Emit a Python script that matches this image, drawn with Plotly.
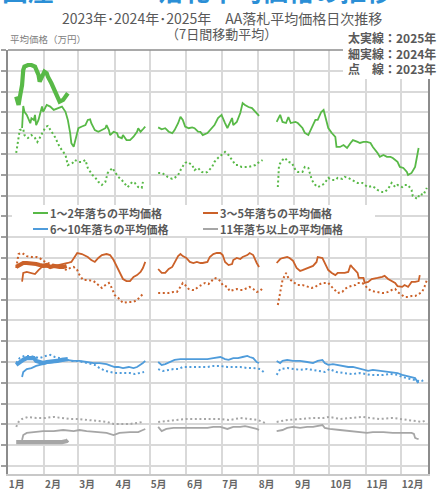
import plotly.graph_objects as go

# ---------------- labels ----------------
MONTHS = ["1月", "2月", "3月", "4月", "5月", "6月", "7月", "8月", "9月", "10月", "11月", "12月"]
MONTH_START = [0, 31, 60, 91, 121, 152, 182, 213, 244, 274, 305, 335]   # day of year (0 = 1月1日)
GROUPS = ["1～2年落ちの平均価格", "3～5年落ちの平均価格", "6～10年落ちの平均価格", "11年落ち以上の平均価格"]
YEARS = ["2023年", "2024年", "2025年"]

# ------------- data: (day of year, 7日間移動平均) ; None = 休場(GW・お盆) -------------
# 1～2年落ち
G23 = [(7,160.5),(9,166.7),(10,171.5),(13,172.0),(14,169.1),(17,167.7),(20,169.1),(23,167.7),(25,165.8),(27,167.7),
       (30,170.6),(32,173.0),(34,173.5),(37,170.6),(40,168.2),(44,163.4),(49,159.5),(51,154.7),(55,155.7),(57,157.1),
       (60,156.2),(63,156.2),(66,157.1),(68,153.3),(72,149.9),(74,149.0),(77,146.6),(80,145.1),(83,146.6),(85,150.9),
       (89,153.3),(91,151.4),(94,149.0),(97,147.5),(100,145.1),(102,144.1),(106,146.6),(108,146.1),(111,144.1),(114,143.7),
       (115,146.6),(121,None),
       (128,150.9),(131,150.9),(134,149.9),(136,149.0),(140,148.0),(142,148.5),(145,149.9),(148,153.3),(151,155.7),(153,156.2),
       (157,154.7),(159,152.3),(162,153.3),(165,151.4),(168,150.9),(170,151.4),(174,153.8),(176,156.2),(179,158.1),(182,159.5),
       (185,161.0),(188,159.5),(191,157.1),(194,154.7),(196,154.7),(199,153.8),(202,153.8),(205,153.8),(208,154.2),(211,154.7),
       (213,155.7),(217,157.1),(223,None),
       (230,144.1),(231,154.7),(234,157.1),(236,158.1),(239,156.2),(242,155.7),(245,152.3),(247,151.4),(251,151.4),(253,153.8),
       (256,153.3),(259,147.5),(262,145.1),(264,144.1),(268,145.1),(270,146.1),(273,148.5),(276,147.5),(279,147.5),(281,148.5),
       (285,148.0),(287,149.0),(290,148.5),(293,147.5),(296,146.6),(298,146.1),(302,146.1),(304,145.1),(307,144.1),(310,144.6),
       (313,143.7),(315,142.7),(319,141.7),(321,141.7),(324,143.2),(327,146.1),(330,144.1),(332,145.1),(336,144.1),(338,145.1),
       (341,145.1),(344,142.7),(345,139.8),(349,138.4),(351,140.8),(354,140.3),(357,143.7)]
G24 = [(12,172.5),(13,183.1),(14,180.3),(16,178.8),(19,174.8),(20,177.2),(22,176.4),(23,178.8),(24,173.9),(26,176.4),
       (29,182.8),(30,180.3),(33,183.6),(36,182.8),(39,181.2),(43,182.0),(46,182.8),(49,180.3),(51,176.4),(53,170.0),
       (54,165.2),(56,163.5),(58,168.3),(60,172.4),(63,173.2),(66,173.9),(68,176.4),(70,176.7),(71,174.8),(74,171.5),
       (77,170.7),(80,171.5),(83,172.4),(84,173.9),(86,171.5),(87,169.1),(90,170.7),(93,170.0),(94,168.3),(97,167.6),
       (98,169.1),(101,166.7),(104,166.7),(107,168.3),(110,170.7),(111,172.4),(113,170.7),(115,171.9),(117,173.2),(122,None),
       (128,172.8),(131,171.9),(134,172.4),(137,170.7),(140,170.0),(142,171.5),(145,174.8),(147,177.9),(149,176.4),(151,173.2),
       (154,172.4),(157,172.8),(159,172.4),(162,170.7),(164,170.6),(166,169.1),(170,170.1),(174,172.5),(176,173.9),(179,177.3),
       (182,178.8),(185,174.9),(187,172.5),(189,174.9),(191,177.3),(192,173.9),(195,175.4),(198,179.7),(200,184.5),(202,183.6),
       (205,182.6),(208,182.1),(211,180.2),(214,178.3),(222,None),
       (229,175.4),(232,178.8),(234,175.4),(237,174.9),(239,177.8),(241,174.9),(245,175.4),(247,174.9),(251,172.5),(253,170.1),
       (256,169.1),(259,173.0),(262,176.4),(264,176.4),(267,180.2),(269,181.2),(270,178.8),(273,172.5),(276,170.1),(279,168.2),
       (280,163.4),(283,163.4),(286,164.3),(289,162.9),(292,165.3),(294,166.7),(298,165.8),(300,165.3),(303,165.8),(306,165.8),
       (309,165.3),(311,163.4),(315,160.5),(317,158.6),(320,159.5),(323,158.6),(326,158.6),(328,158.1),(332,156.2),(334,153.8),
       (337,153.3),(340,151.4),(341,149.9),(344,150.9),(347,153.8),(349,159.5),(350,162.9)]
G25 = [(7,187.6),(9,183.6),(10,187.0),(12,193.2),(13,200.4),(14,202.0),(17,202.8),(20,202.8),(23,202.0),(26,198.0),
       (27,194.8),(29,197.2),(31,199.6),(33,198.8),(34,197.2),(37,194.0),(40,190.0),(42,186.8),(44,185.2),(47,186.0),
       (49,187.6),(51,189.2)]

# 3～5年落ち
O23 = [(7,105.2),(9,111.9),(12,112.4),(16,110.9),(20,110.5),(24,110.5),(27,110.0),(30,108.6),(34,107.6),(39,106.6),
       (43,105.7),(47,105.2),(50,104.2),(53,105.2),(56,105.7),(59,104.2),(61,101.8),(64,99.4),(68,99.4),(73,98.9),
       (77,97.0),(80,95.6),(83,97.0),(86,98.0),(88,96.1),(91,92.2),(94,90.8),(98,88.4),(103,88.9),(107,88.9),
       (110,89.8),(113,91.3),(115,92.7),(121,None),
       (128,93.2),(132,93.2),(137,93.2),(141,93.7),(144,93.7),(147,96.1),(149,98.0),(151,97.0),(154,95.1),(157,94.6),
       (159,94.6),(162,96.1),(165,97.0),(168,98.0),(171,97.5),(174,99.4),(176,100.4),(179,99.9),(181,98.9),(183,97.0),
       (187,96.1),(189,94.1),(192,94.6),(195,95.1),(198,94.6),(200,94.6),(204,95.6),(206,96.1),(209,95.1),(212,93.7),
       (215,94.1),(217,95.6),(223,None),
       (230,87.4),(232,93.7),(234,99.4),(237,102.8),(239,100.4),(242,98.9),(245,98.0),(247,97.0),(251,97.0),(253,96.5),
       (256,96.1),(259,95.6),(262,96.1),(264,97.0),(268,98.0),(270,98.0),(273,98.0),(276,96.1),(279,94.6),(281,93.2),
       (285,93.7),(287,95.1),(290,96.1),(293,96.5),(296,97.0),(298,98.0),(302,98.0),(304,97.0),(307,95.1),(310,94.1),
       (313,93.7),(315,93.7),(319,93.2),(321,93.2),(324,93.7),(327,94.6),(330,95.1),(332,93.7),(336,92.2),(338,91.3),
       (341,91.3),(344,91.7),(347,91.7),(350,92.7),(353,93.7),(355,96.1),(357,99.4)]
O24 = [(12,98.6),(13,102.8),(16,103.3),(20,102.8),(23,102.3),(26,104.2),(29,105.7),(33,105.7),(37,105.7),(40,106.2),
       (44,106.6),(49,107.1),(51,107.6),(54,108.1),(57,110.5),(59,112.4),(63,111.9),(66,110.9),(68,110.5),(71,109.0),
       (74,108.1),(77,110.0),(80,111.4),(84,111.9),(87,111.4),(90,109.0),(93,105.7),(95,102.8),(98,99.9),(101,98.9),
       (104,98.9),(107,100.9),(110,101.8),(113,103.3),(115,105.2),(117,108.1),(122,None),
       (128,104.7),(131,102.8),(134,102.8),(137,104.7),(140,105.7),(142,108.1),(145,110.9),(147,111.9),(149,110.9),(152,110.0),
       (155,108.1),(158,107.6),(161,108.1),(164,107.6),(166,107.6),(170,108.1),(172,110.5),(175,111.9),(178,112.4),(181,112.4),
       (183,111.4),(185,108.1),(188,106.6),(191,107.1),(192,109.0),(195,110.0),(198,109.5),(200,110.5),(204,111.4),(206,112.4),
       (209,111.4),(212,107.6),(214,105.7),(222,None),
       (229,107.6),(232,109.5),(234,110.0),(238,110.5),(240,110.0),(243,108.6),(246,105.2),(249,103.8),(251,104.2),(255,105.2),
       (257,105.7),(260,106.2),(263,108.1),(264,110.5),(268,110.0),(270,107.6),(273,104.2),(276,102.8),(279,101.8),(281,102.8),
       (285,102.8),(287,102.8),(290,103.3),(292,106.6),(294,105.2),(298,102.8),(299,100.4),(303,100.4),(304,98.0),(307,98.5),
       (310,99.9),(313,100.4),(315,100.4),(319,100.9),(321,101.4),(324,99.9),(327,98.9),(330,98.0),(332,96.5),(336,96.1),
       (338,97.0),(341,96.1),(344,98.5),(347,98.5),(350,98.9),(351,101.8)]
O25 = [(7,105.7),(10,106.6),(13,107.6),(16,107.6),(19,107.6),(22,107.1),(24,107.1),(27,106.6),(30,106.2),(33,106.6),
       (36,105.7),(39,106.2),(42,105.7),(44,105.7),(47,105.7),(50,106.2)]

# 6～10年落ち
B23 = [(7,59.5),(10,61.9),(14,62.9),(19,62.9),(23,62.4),(27,61.9),(32,62.9),(36,63.4),(40,62.4),(44,61.9),
       (50,61.0),(54,60.5),(60,60.5),(64,60.0),(68,59.5),(74,58.6),(78,57.1),(83,55.7),(87,55.2),(91,54.7),
       (95,54.7),(100,54.7),(104,54.7),(108,54.2),(111,54.7),(114,55.2),(116,55.2),(121,None),
       (128,56.6),(132,55.7),(137,56.2),(141,56.6),(145,56.6),(149,57.6),(154,57.6),(158,57.6),(164,57.6),(170,57.6),
       (175,58.1),(181,58.1),(187,57.6),(192,57.6),(198,57.6),(204,57.1),(209,57.1),(215,56.6),(219,54.7),(224,None),
       (229,53.8),(232,56.6),(238,57.1),(243,56.6),(249,56.2),(255,56.6),(260,56.2),(266,55.7),(270,55.2),(274,56.6),
       (280,55.2),(286,54.7),(294,54.2),(300,54.7),(304,54.2),(309,53.8),(315,53.8),(320,53.8),(326,54.2),(332,53.8),
       (336,52.8),(340,52.3),(344,51.8),(347,51.3),(350,50.4),(353,50.9),(355,51.8)]
B24 = [(12,52.8),(13,55.2),(16,56.6),(20,57.1),(24,58.1),(29,59.0),(33,59.5),(39,60.0),(44,60.5),(50,61.0),
       (56,60.5),(61,60.5),(67,60.0),(73,59.5),(78,59.5),(84,59.0),(88,58.1),(91,57.6),(94,57.6),(98,57.1),
       (103,57.6),(107,57.1),(110,57.6),(113,58.6),(115,59.5),(117,60.5),(122,None),
       (128,60.0),(131,58.6),(134,59.0),(138,60.0),(142,61.0),(147,61.4),(152,61.4),(158,61.4),(164,61.4),(170,61.4),
       (175,61.9),(181,62.4),(185,61.4),(188,61.0),(192,61.9),(196,61.9),(200,62.4),(204,62.9),(206,62.4),(209,61.9),
       (212,60.0),(214,59.5),(222,None),
       (229,60.5),(232,59.5),(234,60.5),(238,61.0),(243,60.5),(249,60.5),(255,60.0),(260,59.5),(264,60.5),(268,61.0),
       (270,59.5),(273,58.6),(277,59.0),(281,58.6),(286,58.1),(290,57.6),(294,57.6),(298,57.1),(303,56.2),(307,55.7),
       (311,56.2),(317,55.7),(323,55.2),(327,55.2),(332,54.7),(336,53.8),(340,53.3),(344,52.8),(347,52.3),(349,50.4),
       (350,51.3)]
B25 = [(7,58.6),(10,60.0),(13,61.0),(16,61.9),(19,61.9),(22,61.9),(24,60.5),(27,60.0),(30,59.5),(33,60.0),
       (37,60.0),(42,60.5),(46,61.0),(49,61.0),(51,61.4)]

# 11年落ち以上
Y23 = [(7,28.8),(9,31.2),(12,32.6),(17,33.6),(24,33.1),(32,33.1),(39,33.6),(46,33.1),(53,32.6),(60,32.6),
       (67,32.1),(76,31.6),(84,31.2),(90,30.2),(97,30.2),(104,30.2),(110,30.7),(115,31.2),(121,None),
       (128,31.2),(135,31.6),(144,32.1),(152,32.6),(164,32.6),(172,32.6),(181,32.6),(189,32.1),(198,33.1),(206,32.6),
       (213,32.1),(219,30.7),(224,None),
       (229,31.2),(238,32.1),(249,32.6),(260,33.1),(269,33.1),(274,33.6),(283,32.6),(294,33.1),(302,33.6),(309,33.1),
       (317,32.6),(328,33.1),(334,32.6),(340,32.1),(349,31.6),(353,31.2),(357,32.1)]
Y24 = [(12,22.5),(13,24.9),(16,25.9),(22,26.3),(30,26.8),(39,26.8),(47,27.3),(56,26.8),(61,27.3),(67,26.8),
       (76,26.3),(84,25.9),(90,24.9),(95,25.9),(104,26.3),(111,26.3),(115,27.3),(117,27.8),(122,None),
       (128,28.8),(131,26.8),(135,27.8),(141,28.3),(147,28.3),(152,28.3),(158,28.3),(164,28.3),(170,28.3),(175,28.8),
       (181,28.8),(187,27.8),(192,28.8),(198,28.8),(202,29.2),(205,28.8),(209,28.3),(212,27.8),(214,27.3),(222,None),
       (229,26.8),(234,27.3),(238,28.3),(243,28.8),(249,28.3),(255,28.8),(260,28.8),(264,29.2),(268,29.7),(270,28.3),
       (274,27.8),(283,27.3),(292,26.8),(300,26.3),(306,25.9),(311,26.3),(320,26.3),(328,25.9),(337,25.9),(344,25.9),
       (346,25.4),(347,23.5),(349,23.0),(350,23.0)]
Y25 = [(7,21.5),(12,21.5),(16,21.5),(20,21.5),(24,21.1),(29,21.5),(33,21.5),(37,21.5),(42,21.1),(46,21.5),
       (50,22.0),(51,22.5)]

SERIES = [(GROUPS[0], [G23, G24, G25]), (GROUPS[1], [O23, O24, O25]),
          (GROUPS[2], [B23, B24, B25]), (GROUPS[3], [Y23, Y24, Y25])]

# ---------------- styles ----------------
COLORS = ["#58B947", "#CB6129", "#4F9CDB", "#A6A6A6"]
LINE_STYLE = [dict(width=2.0, dash="2px,2.6px"), dict(width=1.8), dict(width=4.2)]
FONT = "Noto Sans CJK JP"

fig = go.Figure()
for gi, (gname, per_year) in enumerate(SERIES):
    for yi, pts in enumerate(per_year):
        xs = [p[0] for p in pts]
        ys = [p[1] for p in pts]
        fig.add_trace(go.Scatter(
            x=xs, y=ys, mode="lines", name=f"{gname}（{YEARS[yi]}）",
            line=dict(color=COLORS[gi], **LINE_STYLE[yi]),
            connectgaps=False, showlegend=False, hoverinfo="skip"))

W, H = 438, 493
ML, MR, MT, MB = 8, 10, 50, 19
PW, PH = W - ML - MR, H - MT - MB


def px(xp):
    return (xp - ML) / PW


def py(yp):
    return (H - MB - yp) / PH


fig.update_layout(
    width=W, height=H,
    margin=dict(l=ML, r=MR, t=MT, b=MB, autoexpand=False),
    paper_bgcolor="white", plot_bgcolor="white",
    showlegend=False,
    font=dict(family=FONT, color="#595959"),
)
fig.update_xaxes(
    range=[0, 358], tickmode="array", tickvals=MONTH_START, ticktext=MONTHS,
    showgrid=True, gridcolor="#d9d9d9", gridwidth=1.5,
    showline=True, linecolor="#c8c8c8", linewidth=1.5, mirror=False,
    ticks="", ticklabelposition="outside right", ticklabelshift=0,
    tickfont=dict(family=FONT, size=10, color="#666666", weight="bold"),
    zeroline=False, automargin=False,
)
fig.update_yaxes(
    range=[6.15, 210], tick0=0, dtick=10, showticklabels=False,
    ticks="outside", ticklen=5, tickcolor="#a0a0a0", tickwidth=1.5,
    showgrid=True, gridcolor="#d9d9d9", gridwidth=1.5,
    showline=True, linecolor="#8c8c8c", linewidth=2, mirror=True,
    zeroline=False, automargin=False,
)

shapes = [
    # top frame line
    dict(type="line", xref="paper", yref="paper", x0=0, x1=1, y0=1, y1=1,
         line=dict(color="#8c8c8c", width=1.5), layer="above"),
    # white boxes behind the two legends
    dict(type="rect", xref="paper", yref="paper", x0=px(12), x1=px(375), y0=py(236), y1=py(205),
         fillcolor="white", line=dict(width=0), layer="above"),
    dict(type="rect", xref="paper", yref="paper", x0=px(343), x1=px(440), y0=py(79), y1=py(24),
         fillcolor="white", line=dict(width=0), layer="above"),
]

annotations = [
    # large blue heading (cut off at the top edge of the image)
    dict(text="国産　　　　落札平均価格の推移", xref="paper", yref="paper", x=px(0), y=py(10),
         xanchor="left", yanchor="bottom", showarrow=False,
         font=dict(family=FONT, size=26, color="#2B8FD6", weight="bold")),
    dict(text="2023年･2024年･2025年　AA落札平均価格日次推移", xref="paper", yref="paper",
         x=px(222), y=py(17.5), xanchor="center", yanchor="middle", showarrow=False,
         font=dict(family=FONT, size=14, color="#595959")),
    dict(text="（7日間移動平均）", xref="paper", yref="paper",
         x=px(221), y=py(33.5), xanchor="center", yanchor="middle", showarrow=False,
         font=dict(family=FONT, size=13, color="#595959")),
    dict(text="平均価格（万円）", xref="paper", yref="paper", x=px(8), y=py(39),
         xanchor="left", yanchor="middle", showarrow=False,
         font=dict(family=FONT, size=9.5, color="#808080")),
]
for i, (lbl, yr) in enumerate([("太実線", "2025年"), ("細実線", "2024年"), ("点　線", "2023年")]):
    annotations.append(dict(text=f"{lbl}：{yr}", xref="paper", yref="paper",
                            x=px(346), y=py(38 + 15.5 * i), xanchor="left", yanchor="middle",
                            showarrow=False,
                            font=dict(family=FONT, size=12, color="#595959", weight="bold")))

# legend (2 x 2)
LEG_POS = [(33, 213), (203, 213), (33, 229), (203, 229)]
for gi, (gname, _) in enumerate(SERIES):
    lx, ly = LEG_POS[gi]
    shapes.append(dict(type="line", xref="paper", yref="paper", x0=px(lx), x1=px(lx + 15),
                       y0=py(ly), y1=py(ly), line=dict(color=COLORS[gi], width=2), layer="above"))
    annotations.append(dict(text=gname, xref="paper", yref="paper", x=px(lx + 15), y=py(ly),
                            xanchor="left", yanchor="middle", showarrow=False,
                            font=dict(family=FONT, size=11, color="#595959", weight="bold")))

fig.update_layout(shapes=shapes, annotations=annotations)
# remove the browser's default 8px page margin so the figure sits at the window's top-left corner
fig.write_html("out.html", config={"displayModeBar": False},
               post_script="document.body.style.margin='0';")
